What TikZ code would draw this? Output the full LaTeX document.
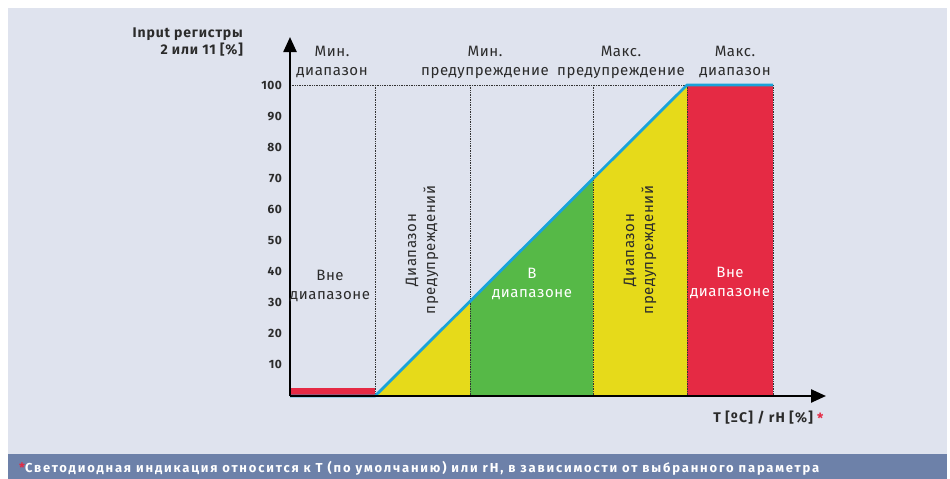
\documentclass[tikz,border=0pt]{standalone}
\usepackage{fontspec}
\setmainfont{Fira Sans}
\usetikzlibrary{arrows.meta}
\definecolor{bgc}{HTML}{DFE3EE}
\definecolor{banner}{HTML}{6D81A9}
\definecolor{redc}{HTML}{E52A44}
\definecolor{yelc}{HTML}{E6DA1A}
\definecolor{grnc}{HTML}{56B947}
\definecolor{bluc}{HTML}{1AA3D9}
\definecolor{txt}{HTML}{2B2B2B}
\newcommand{\lblfont}{\fontsize{15}{19}\selectfont\addfontfeatures{LetterSpace=3.5}}
\tikzset{
  toplabel/.style={text=txt,font=\lblfont,align=center,inner sep=0pt},
  tick/.style={text=txt,font=\bfseries\fontsize{12}{14}\selectfont\addfontfeatures{LetterSpace=3},anchor=east,inner sep=0pt},
  zonelabel/.style={font=\lblfont,align=center,inner sep=0pt},
  vguide/.style={densely dotted,line width=0.7pt,draw=black!80},
  axis/.style={line width=2.4pt,-{Triangle[length=15pt,width=13pt]}},
}
\begin{document}
\begin{tikzpicture}[x=1pt,y=-1pt]
\useasboundingbox (0,0) rectangle (950,479);
\fill[white] (0,0) rectangle (950,479);
\fill[bgc] (8,8) rectangle (947,454);
\fill[banner] (8,454) rectangle (947,479);
% coloured zones
\fill[redc] (290,388) rectangle (375,396);
\fill[yelc] (375,396) -- (470,301.3) -- (470,396) -- cycle;
\fill[grnc] (470,396) -- (470,301.3) -- (593,178.7) -- (593,396) -- cycle;
\fill[yelc] (593,396) -- (593,178.7) -- (687,85) -- (687,396) -- cycle;
\fill[redc] (687,85) rectangle (773,396);
% guides
\draw[vguide] (290,85) -- (687,85);
\foreach \xx in {375,470,593,687,773} \draw[vguide] (\xx,85) -- (\xx,396);
% blue curve
\draw[bluc,line width=2.8pt,line join=round] (290,396) -- (375,396) -- (687,85) -- (773,85);
% axes
\coordinate (o) at (290,396);
\coordinate (ytip) at (290,37);
\coordinate (xtip) at (826,396);
\draw[axis] (o) -- (ytip);
\draw[axis] (o) -- (xtip);
% ticks
\foreach \v in {10,20,...,100} \node[tick] (t\v) at (282,{396-3.11*\v}) {\v};
% axis titles
\node[text=txt,font=\bfseries\fontsize{14}{17}\selectfont\addfontfeatures{LetterSpace=6},align=right,anchor=north east,inner sep=0pt] (ylab) at (243,28) {Input регистры\\2 или 11 [\%]};
\node[text=txt,font=\bfseries\fontsize{14}{17}\selectfont\addfontfeatures{LetterSpace=8},anchor=east,inner sep=0pt] (xlab) at (813,418) {T [ºC] / rH [\%]};
\node[text=redc,font=\bfseries\fontsize{14}{17}\selectfont,anchor=west,inner sep=0pt] (xstar) at (817,418) {*};
% top labels
\node[toplabel] (l1) at (332,62) {Мин.\\диапазон};
\node[toplabel] (l2) at (485,62) {Мин.\\предупреждение};
\node[toplabel] (l3) at (621,62) {Макс.\\предупреждение};
\node[toplabel] (l4) at (735,62) {Макс.\\диапазон};
% zone labels
\node[zonelabel,text=txt] (z1) at (330,286) {Вне\\диапазоне};
\node[zonelabel,text=txt,rotate=90] (z2) at (422,250) {Диапазон\\предупреждений};
\node[zonelabel,text=white] (z3) at (532,284) {В\\диапазоне};
\node[zonelabel,text=txt,rotate=90] (z4) at (640,250) {Диапазон\\предупреждений};
\node[zonelabel,text=white] (z5) at (730,283) {Вне\\диапазоне};
% banner text
\node[anchor=west,inner sep=0pt,font=\bfseries\fontsize{13}{15}\selectfont\addfontfeatures{LetterSpace=14},text=white] (note) at (19,468) {\textcolor{redc}{*}Светодиодная индикация относится к T (по умолчанию) или rH, в зависимости от выбранного параметра};
\end{tikzpicture}
\end{document}
